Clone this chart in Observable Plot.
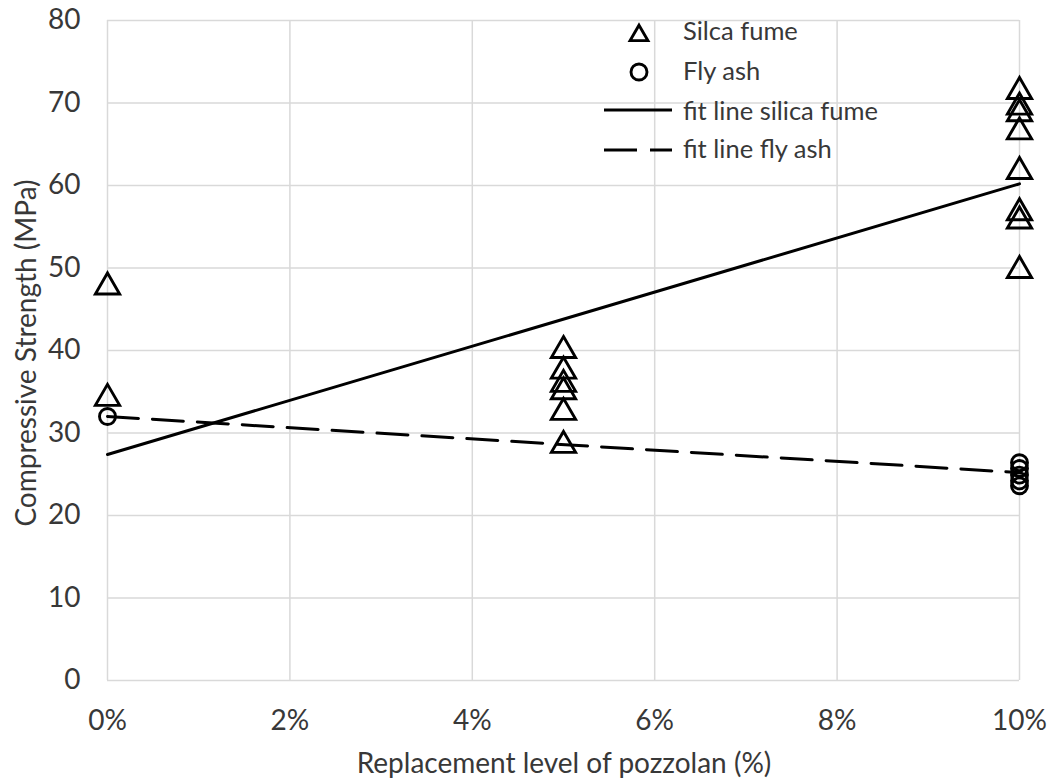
<!DOCTYPE html>
<html>
<head>
<meta charset="utf-8">
<script src="https://cdn.jsdelivr.net/npm/d3@7"></script>
<script src="https://cdn.jsdelivr.net/npm/@observablehq/plot@0.6"></script>
<style>
  html, body { margin: 0; padding: 0; background: #fff; }
  #chart { position: relative; width: 1052px; height: 783px; }
  svg { font-family: Lato, "Open Sans", sans-serif; }
</style>
</head>
<body>
<div id="chart"></div>
<script>
// ---- data ----
const silicaX = [0, 0, 0.05, 0.05, 0.05, 0.05, 0.05, 0.05, 0.10, 0.10, 0.10, 0.10, 0.10, 0.10, 0.10, 0.10];
const silicaY = [48.0, 34.5, 40.3, 37.8, 36.2, 35.3, 32.8, 28.8, 71.7, 69.8, 69.0, 66.8, 62.0, 57.0, 56.0, 50.0];
const flyX = [0, 0.10, 0.10, 0.10, 0.10, 0.10];
const flyY = [32.0, 26.4, 25.7, 24.9, 24.2, 23.6];
const fitX = [0, 0.10];
const fitSilicaY = [27.4, 60.2];
const fitFlyY = [32.0, 25.2];
const xTicks = [0, 0.02, 0.04, 0.06, 0.08, 0.10];
const yTicks = [0, 10, 20, 30, 40, 50, 60, 70, 80];
const legendLabels = ["Silca fume", "Fly ash", "fit line silica fume", "fit line fly ash"];
const xTitle = "Replacement level of pozzolan (%)";
const yTitle = "Compressive Strength (MPa)";

const silica = silicaX.map((x, i) => ({x, y: silicaY[i]}));
const fly = flyX.map((x, i) => ({x, y: flyY[i]}));
const fitS = fitX.map((x, i) => ({x, y: fitSilicaY[i]}));
const fitF = fitX.map((x, i) => ({x, y: fitFlyY[i]}));

const W = 1052, H = 783;
const textColor = "#383838";
const plot = Plot.plot({
  width: W,
  height: H,
  marginLeft: 107,
  marginRight: 33,
  marginTop: 20,
  marginBottom: 103,
  style: {fontSize: "28px", color: textColor, background: "#fff"},
  x: {domain: [0, 0.10], ticks: xTicks, tickFormat: d3.format(".0%")},
  y: {domain: [0, 80], ticks: yTicks},
  marks: [
    Plot.gridX(xTicks, {stroke: "#d9d9d9", strokeOpacity: 1, strokeWidth: 1.5}),
    Plot.gridY(yTicks, {stroke: "#d9d9d9", strokeOpacity: 1, strokeWidth: 1.5}),
    Plot.axisX(xTicks, {tickSize: 0, tickPadding: 30, tickFormat: d3.format(".0%"), label: null, fontSize: 28, fill: textColor}),
    Plot.axisY(yTicks, {tickSize: 0, tickPadding: 27, label: null, fontSize: 28, fill: textColor}),
    Plot.line(fitS, {x: "x", y: "y", stroke: "#000", strokeWidth: 3}),
    Plot.line(fitF, {x: "x", y: "y", stroke: "#000", strokeWidth: 3, strokeDasharray: "31,14"}),
    Plot.dot(silica, {x: "x", y: "y", symbol: "triangle", r: 9, dy: 2.5, stroke: "#000", strokeWidth: 2.9, fill: "none"}),
    Plot.dot(fly, {x: "x", y: "y", symbol: "circle", r: 8, stroke: "#000", strokeWidth: 2.9, fill: "none"})
  ]
});
document.getElementById("chart").appendChild(plot);

// axis titles and legend
const svg = d3.select(plot);
svg.append("text")
  .attr("x", 564).attr("y", 773)
  .attr("text-anchor", "middle")
  .attr("font-size", 28).attr("fill", textColor)
  .text(xTitle);
svg.append("text")
  .attr("transform", "translate(36,353) rotate(-90)")
  .attr("text-anchor", "middle")
  .attr("font-size", 28).attr("fill", textColor)
  .text(yTitle);

const lg = svg.append("g").attr("font-size", 25.5).attr("fill", textColor);
const symY = [33, 72, 110, 150];
const textY = [40, 80, 120, 158];
lg.append("path").attr("transform", `translate(639,${symY[0] + 2.5})`)
  .attr("d", d3.symbol(d3.symbolTriangle2, Math.PI * 8.5 * 8.5)())
  .attr("fill", "none").attr("stroke", "#000").attr("stroke-width", 2.9);
lg.append("circle").attr("cx", 639).attr("cy", symY[1]).attr("r", 8)
  .attr("fill", "none").attr("stroke", "#000").attr("stroke-width", 2.9);
lg.append("line").attr("x1", 604).attr("x2", 672).attr("y1", symY[2]).attr("y2", symY[2])
  .attr("stroke", "#000").attr("stroke-width", 3);
lg.append("line").attr("x1", 604).attr("x2", 672).attr("y1", symY[3]).attr("y2", symY[3])
  .attr("stroke", "#000").attr("stroke-width", 3).attr("stroke-dasharray", "33,13");
legendLabels.forEach((t, i) => {
  lg.append("text").attr("x", 683).attr("y", textY[i])
    .attr("text-anchor", "start").text(t);
});
</script>
</body>
</html>
